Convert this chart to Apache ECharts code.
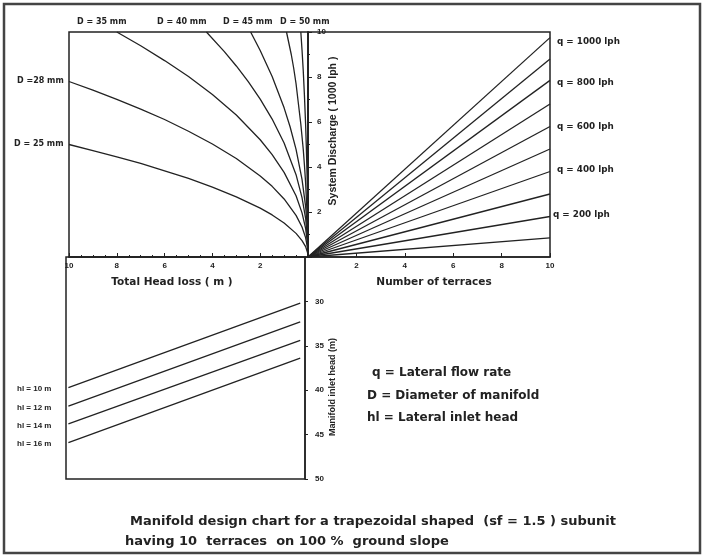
<!DOCTYPE html>
<html>
<head>
<meta charset="utf-8">
<title>Manifold design chart</title>
<script src="https://cdn.jsdelivr.net/npm/echarts@6/dist/echarts.min.js"></script>
<style>
  html, body { margin: 0; padding: 0; background: #fff; }
  #grafica { width: 707px; height: 557px; }
</style>
</head>
<body>
<div id="grafica"></div>
<script>
// curvas de perdida de carga: [perdida total (m), caudal del sistema (1000 lph)]
var d25 = [[0, 0], [0.02, 0.2], [0.1, 0.46], [0.25, 0.73], [0.5, 1.05], [1, 1.51], [1.5, 1.87], [2, 2.17], [3, 2.67], [4, 3.11],
           [5, 3.49], [6, 3.83], [7, 4.16], [8, 4.45], [9, 4.73], [10, 5.0]];
var d28 = [[0, 0], [0.02, 0.39], [0.1, 0.86], [0.25, 1.33], [0.5, 1.85], [1, 2.58], [1.5, 3.14], [2, 3.6], [3, 4.38], [4, 5.02],
           [5, 5.59], [6, 6.11], [7, 6.57], [8, 7.01], [9, 7.42], [10, 7.8]];
var d35 = [[0, 0], [0.02, 0.6], [0.1, 1.27], [0.25, 1.96], [0.5, 2.72], [1, 3.76], [1.5, 4.55], [2, 5.21], [3, 6.31], [4, 7.22],
           [5, 8.02], [6, 8.73], [7, 9.39], [8, 10]];
var d40 = [[0, 0], [0.02, 0.81], [0.1, 1.72], [0.25, 2.64], [0.5, 3.66], [1, 5.07], [1.5, 6.13], [2, 7.02], [2.5, 7.79], [3, 8.49],
           [3.5, 9.13], [4.25, 10]];
var d45 = [[0, 0], [0.01, 0.76], [0.05, 1.62], [0.1, 2.25], [0.25, 3.45], [0.5, 4.78], [0.75, 5.79], [1, 6.63], [1.5, 8.02], [2, 9.18],
           [2.4, 10]];
var d50 = [[0, 0], [0.01, 1.0], [0.05, 2.2], [0.1, 3.3], [0.15, 4.1], [0.2, 4.8], [0.3, 5.9], [0.4, 6.8], [0.5, 7.7], [0.6, 8.4],
           [0.7, 9.0], [0.8, 9.5], [0.9, 10]];
var d55 = [[0, 0], [0.01, 1.8], [0.02, 2.6], [0.04, 3.7], [0.07, 4.9], [0.1, 5.9], [0.15, 7.2], [0.2, 8.3], [0.25, 9.2], [0.3, 10]];

// rectas de terrazas: caudal lateral (lph) y caudal del sistema con 10 terrazas
var terraces = [0, 10];
var lateralFlow = [100, 200, 300, 400, 500, 600, 700, 800, 900, 1000];
var dischargeAt10 = [0.85, 1.8, 2.8, 3.8, 4.8, 5.8, 6.8, 7.85, 8.8, 9.75];

// rectas de carga de entrada: perdida (m) en los extremos y carga del manifold (m)
var lossEnds = [9.9, 0.2];
var inletHeadLeft = [39.7, 41.8, 43.8, 45.9];
var inletHeadRight = [30.2, 32.3, 34.4, 36.4];
var lateralHead = ['hl = 10 m', 'hl = 12 m', 'hl = 14 m', 'hl = 16 m'];

// etiquetas de los ejes
var headLossTicks = [2, 4, 6, 8, 10];
var dischargeTicks = [2, 4, 6, 8, 10];
var terraceTicks = [2, 4, 6, 8, 10];
var inletHeadTicks = [30, 35, 40, 45, 50];

var fuente = 'Arial, "Liberation Sans", sans-serif';
var ancha = '"DejaVu Sans", Verdana, sans-serif';
var tinta = '#222';

function etiqueta(lista) {
    return function (v) {
        return lista.indexOf(v) >= 0 ? String(v) : '';
    };
}

function texto(t, x, y, size, familia, rot) {
    var el = {
        type: 'text',
        x: x,
        y: y,
        silent: true,
        style: {
            text: t,
            fill: tinta,
            font: 'bold ' + size + 'px ' + (familia || fuente),
            verticalAlign: 'middle'
        }
    };
    if (rot) {
        el.rotation = rot;
        el.style.align = 'center';
    }
    return el;
}

function linea(data, xi) {
    return {
        type: 'line',
        xAxisIndex: xi,
        yAxisIndex: xi,
        data: data,
        symbol: 'none',
        silent: true,
        lineStyle: { color: tinta, width: 1.3 }
    };
}

function renderGrafico() {
    var grafico = echarts.init(document.getElementById('grafica'));
    var series = [];

    [d25, d28, d35, d40, d45, d50, d55].forEach(function (curva) {
        series.push(linea(curva, 0));
    });

    dischargeAt10.forEach(function (v) {
        series.push(linea([[terraces[0], 0], [terraces[1], v]], 1));
    });

    inletHeadLeft.forEach(function (v, i) {
        series.push(linea([[lossEnds[0], v], [lossEnds[1], inletHeadRight[i]]], 2));
    });

    var ejeLabel = { fontSize: 8, fontWeight: 'bold', color: tinta, fontFamily: fuente };
    var ejeLinea = { lineStyle: { color: tinta, width: 1.5 } };
    var nombre = { fontSize: 10.5, fontWeight: 'bold', color: tinta, fontFamily: ancha };

    var grafs = [];
    grafs.push({
        type: 'rect', silent: true,
        shape: { x: 4, y: 4, width: 696, height: 549 },
        style: { fill: null, stroke: '#444', lineWidth: 2.5 }
    });
    grafs.push(texto('D = 35 mm', 77, 22, 8, ancha));
    grafs.push(texto('D = 40 mm', 157, 22, 8, ancha));
    grafs.push(texto('D = 45 mm', 223, 22, 8, ancha));
    grafs.push(texto('D = 50 mm', 280, 22, 8, ancha));
    grafs.push(texto('D =28 mm', 17, 81, 8, ancha));
    grafs.push(texto('D = 25 mm', 14, 144, 8, ancha));
    grafs.push(texto('q = 1000 lph', 557, 42, 8.8, ancha));
    grafs.push(texto('q = 800 lph', 557, 83, 8.8, ancha));
    grafs.push(texto('q = 600 lph', 557, 127, 8.8, ancha));
    grafs.push(texto('q = 400 lph', 557, 170, 8.8, ancha));
    grafs.push(texto('q = 200 lph', 553, 215, 8.8, ancha));
    lateralHead.forEach(function (t, i) {
        grafs.push(texto(t, 17, [389, 408, 426, 444][i], 8));
    });
    grafs.push(texto('System Discharge ( 1000 lph )', 333, 131, 10.5, fuente, Math.PI / 2));
    grafs.push(texto('q = Lateral flow rate', 372, 373, 12, ancha));
    grafs.push(texto('D = Diameter of manifold', 367, 396, 12, ancha));
    grafs.push(texto('hl = Lateral inlet head', 367, 418, 12, ancha));
    grafs.push(texto('Manifold design chart for a trapezoidal shaped  (sf = 1.5 ) subunit', 130, 522, 13, ancha));
    grafs.push(texto('having 10  terraces  on 100 %  ground slope', 125, 542, 13, ancha));

    var rejilla = { show: true, borderColor: tinta, borderWidth: 1.5, backgroundColor: 'transparent' };

    var option = {
        animation: false,
        backgroundColor: '#fff',
        textStyle: { fontFamily: fuente },
        grid: [
            Object.assign({ left: 69, top: 32, width: 239, height: 225 }, rejilla),
            Object.assign({ left: 308, top: 32, width: 242, height: 225 }, rejilla),
            Object.assign({ left: 66, top: 257, width: 239, height: 222 }, rejilla)
        ],
        xAxis: [
            {
                gridIndex: 0, type: 'value', min: 0, max: 10, interval: 2, inverse: true,
                axisLine: ejeLinea,
                axisTick: { inside: true, length: 4, lineStyle: { color: tinta } },
                minorTick: { show: true, splitNumber: 4, length: 2, lineStyle: { color: tinta } },
                axisLabel: Object.assign({ margin: 5, formatter: etiqueta(headLossTicks) }, ejeLabel),
                splitLine: { show: false },
                name: 'Total Head loss ( m )', nameLocation: 'middle', nameGap: 20,
                nameTextStyle: Object.assign({ padding: [0, 33, 0, 0] }, nombre)
            },
            {
                gridIndex: 1, type: 'value', min: 0, max: 10, interval: 2,
                axisLine: ejeLinea,
                axisTick: { inside: true, length: 4, lineStyle: { color: tinta } },
                axisLabel: Object.assign({ margin: 5, formatter: etiqueta(terraceTicks) }, ejeLabel),
                splitLine: { show: false },
                name: 'Number of terraces', nameLocation: 'middle', nameGap: 20,
                nameTextStyle: Object.assign({ padding: [0, 0, 0, 10] }, nombre)
            },
            { gridIndex: 2, type: 'value', min: 0, max: 10, inverse: true, show: false }
        ],
        yAxis: [
            { gridIndex: 0, type: 'value', min: 0, max: 10, show: false },
            {
                gridIndex: 1, type: 'value', min: 0, max: 10, interval: 2, position: 'left',
                axisLine: { show: true, lineStyle: { color: tinta, width: 1.5 } },
                axisTick: { show: true, inside: true, length: 4, lineStyle: { color: tinta } },
                minorTick: { show: true, splitNumber: 2, length: 2, lineStyle: { color: tinta } },
                axisLabel: Object.assign({ inside: true, margin: 9, formatter: etiqueta(dischargeTicks) }, ejeLabel),
                splitLine: { show: false }
            },
            {
                gridIndex: 2, type: 'value', min: 25, max: 50, interval: 5, inverse: true, position: 'right',
                axisLine: { show: true, lineStyle: { color: tinta, width: 1.5 } },
                axisTick: { show: true, length: 3, lineStyle: { color: tinta } },
                axisLabel: Object.assign({ margin: 10, formatter: etiqueta(inletHeadTicks) }, ejeLabel),
                splitLine: { show: false },
                name: 'Manifold inlet head (m)', nameLocation: 'middle', nameRotate: 90, nameGap: 23,
                nameTextStyle: Object.assign({ padding: [0, 38, 0, 0] }, nombre, { fontSize: 9, fontFamily: fuente })
            }
        ],
        series: series,
        graphic: grafs
    };

    grafico.setOption(option, true);
}

renderGrafico();
</script>
</body>
</html>
